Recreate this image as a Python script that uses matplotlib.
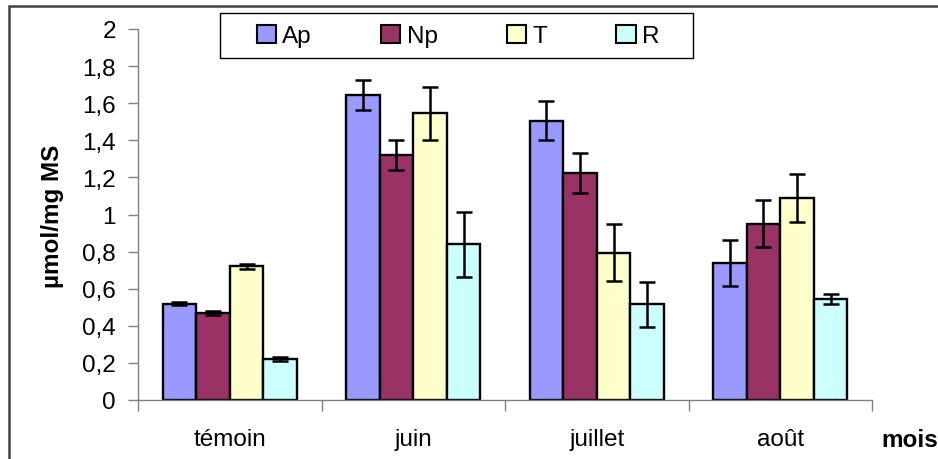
import matplotlib
matplotlib.use("Agg")
import matplotlib.pyplot as plt
import numpy as np
from matplotlib.patches import Rectangle
from matplotlib.ticker import FuncFormatter, FixedLocator

plt.rcParams['font.family'] = ['Liberation Sans', 'DejaVu Sans']

categories = ["témoin", "juin", "juillet", "août"]
series = ["Ap", "Np", "T", "R"]
values = {
    "Ap": [0.52, 1.645, 1.505, 0.74],
    "Np": [0.47, 1.32, 1.225, 0.95],
    "T":  [0.72, 1.545, 0.795, 1.09],
    "R":  [0.22, 0.84, 0.515, 0.545],
}
errors = {
    "Ap": [0.01, 0.08, 0.105, 0.125],
    "Np": [0.01, 0.08, 0.108, 0.127],
    "T":  [0.015, 0.145, 0.155, 0.13],
    "R":  [0.01, 0.175, 0.12, 0.027],
}
colors = {"Ap": "#9999FF", "Np": "#993366", "T": "#FFFFCC", "R": "#CCFFFF"}
ylabel = "µmol/mg MS"
xlabel = "mois"

FS = 17.5
W, H = 938, 460
fig = plt.figure(figsize=(W/100, H/100), dpi=100)
ax = fig.add_axes([138/W, 1-401/H, (872-138)/W, (401-30)/H])

x = np.arange(len(categories))
bw = 0.1826
for i, s in enumerate(series):
    off = (i - 1.5) * bw
    ax.bar(x + off, values[s], bw, color=colors[s], edgecolor="black",
           linewidth=1.7, label=s, zorder=2)
    ax.errorbar(x + off, values[s], yerr=errors[s], fmt="none", ecolor="black",
                elinewidth=1.8, capsize=6, capthick=1.8, zorder=3)

ax.set_xlim(-0.5, len(categories) - 0.5)
ax.set_ylim(0, 2)
ax.set_yticks(np.arange(0, 2.01, 0.2))
ax.yaxis.set_major_formatter(FuncFormatter(lambda v, p: ("%g" % round(v, 1)).replace(".", ",")))
ax.spines["top"].set_visible(False)
ax.spines["right"].set_visible(False)
ax.spines["left"].set_color("#808080")
ax.spines["bottom"].set_color("#808080")
ax.spines["left"].set_linewidth(1.0)
ax.spines["bottom"].set_linewidth(1.0)
ax.tick_params(axis="y", direction="out", length=7, width=1, color="#808080",
               labelsize=FS, pad=9)
ax.xaxis.set_major_locator(FixedLocator(np.arange(-0.5, len(categories), 1.0)))
ax.xaxis.set_minor_locator(FixedLocator(x))
ax.tick_params(axis="x", which="major", direction="out", length=8, width=1,
               color="#808080", labelbottom=False)
ax.tick_params(axis="x", which="minor", length=0, labelsize=FS, pad=20.5)
ax.set_xticklabels(categories, minor=True)

fig.text(53/W, 1-216/H, ylabel, rotation=90, ha="center", va="center",
         fontsize=FS, fontweight="bold")
fig.text(881/W, 1-441/H, xlabel, ha="left", va="center", fontsize=FS,
         fontweight="bold")

# legend box drawn manually
fig.patches.append(Rectangle((220/W, 1-59/H), 473/W, 45/H, transform=fig.transFigure,
                             fill=True, facecolor="white", edgecolor="black",
                             linewidth=1.0, zorder=5))
leg = fig.legend(loc="center", bbox_to_anchor=(458/W, 1-37/H),
                 ncol=4, fontsize=FS, frameon=False, handlelength=0.8,
                 handleheight=0.8, handletextpad=0.25, columnspacing=2.85,
                 borderaxespad=0, borderpad=0)
leg.set_zorder(6)
for h in leg.legend_handles:
    h.set_linewidth(1.5)

fig.patches.append(Rectangle((9/W, -0.05), 1.1, 1-7/H+0.05, transform=fig.transFigure,
                             fill=False, edgecolor="#404040", linewidth=1.8))

fig.savefig("out.png", dpi=100)
